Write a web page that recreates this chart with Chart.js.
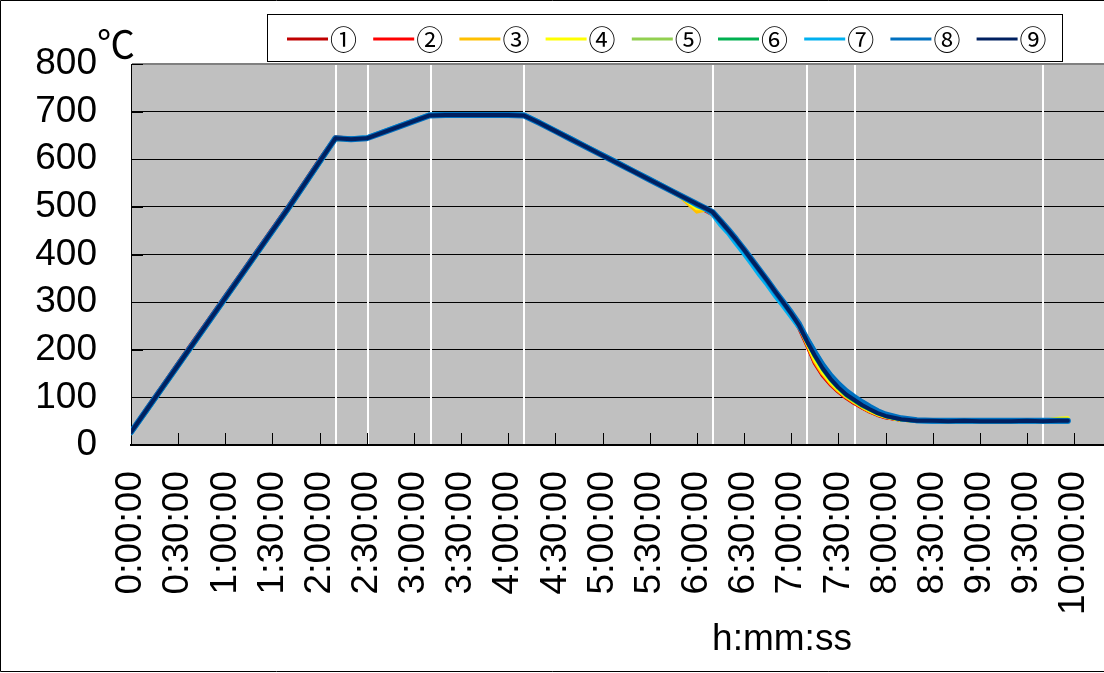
<!DOCTYPE html>
<html><head><meta charset="utf-8">
<script src="https://cdn.jsdelivr.net/npm/chart.js@4.4.1/dist/chart.umd.min.js"></script>
<style>html,body{margin:0;padding:0;background:#fff;}#wrap{width:1104px;height:673px;position:relative;}canvas{display:block;}</style>
</head><body><div id="wrap"><canvas id="c" width="1104" height="673"></canvas></div>
<script>
// elapsed time in minutes
const timeMin = [
  0,10,20,30,40,50,60,70,80,90,100,110,120,130,
  140,150,160,170,180,190,200,210,220,230,240,250,
  260,270,280,290,300,310,320,330,340,350,360,
  365,370,375,380,385,390,395,400,405,410,415,420,425,430,435,440,445,450,455,460,465,470,475,480,
  490,500,510,520,530,540,550,560,570,580,590,596
];
const s1 = [
  28,77,124,172,219,266,313,360,407,454,501,550,599,646,
  643,644,656,668,680,692,693,693,693,693,693,692,
  676,659,642,625,608,591,574,557,540,523,505,
  494,486,466,447,428,406,386,363,341,319,297,272,246,210,172,146,127,112,99,88,79,70,63,58,
  53,51,52,51,52,51,52,51,52,51,50,50
];
const s2 = [
  27,76,123,171,218,265,312,359,406,453,500,549,598,645,
  643,644,656,668,680,692,693,693,693,693,693,692,
  676,659,642,625,608,591,574,557,540,522,504,
  493,484,468,449,429,408,387,365,343,320,297,276,250,212,174,148,128,113,100,89,79,71,64,58,
  53,52,52,51,52,52,51,52,52,51,51,51
];
const s3 = [
  26,73,120,167,214,261,308,355,402,449,496,545,594,643,
  642,644,656,668,680,692,693,693,693,693,693,692,
  676,659,642,625,608,591,574,557,540,520,490,
  494,488,468,449,430,409,386,365,343,320,298,275,250,213,176,150,130,114,101,90,80,71,64,59,
  53,51,51,50,50,50,50,50,51,51,53,54
];
const s4 = [
  26,73,120,167,214,261,308,355,402,449,496,545,594,643,
  642,644,656,668,680,692,693,693,693,693,693,692,
  676,659,642,625,608,591,574,557,540,522,497,
  497,489,470,451,431,410,388,366,344,321,299,276,252,216,180,154,133,117,103,92,82,73,65,60,
  53,51,51,50,50,50,50,50,51,51,55,56
];
const s5 = [
  25,71,118,165,212,259,306,353,400,447,494,543,592,642,
  642,644,656,668,680,692,693,693,693,693,693,692,
  677,660,643,626,609,592,575,558,541,524,507,
  498,489,470,451,431,410,388,366,344,321,299,276,251,218,186,159,137,119,104,93,82,74,66,60,
  53,51,51,50,50,50,50,50,50,50,51,51
];
const s6 = [
  26,72,119,166,213,260,307,354,401,448,495,544,593,643,
  642,644,656,668,680,692,693,693,693,693,693,692,
  677,660,643,626,609,592,575,558,541,524,507,
  498,489,470,451,431,410,388,366,344,321,299,276,251,218,187,160,138,120,105,94,83,75,67,61,
  54,51,51,50,51,50,50,50,51,50,51,51
];
const s7 = [
  26,73,120,167,214,261,308,355,402,449,496,545,594,644,
  643,645,657,669,681,693,694,694,694,694,694,693,
  677,660,643,626,609,592,575,558,541,522,503,
  496,485,463,445,423,402,380,357,336,313,292,270,248,224,196,168,146,127,111,99,88,78,70,63,
  55,51,50,50,50,50,50,50,50,50,50,50
];
const s8 = [
  27,74,121,168,215,262,309,356,403,450,497,546,595,644,
  642,644,656,668,680,692,693,693,693,693,693,692,
  676,659,642,625,608,591,574,557,540,523,506,
  498,489,471,452,432,411,389,367,345,322,300,278,254,222,194,168,146,128,113,101,90,80,71,64,
  56,52,51,51,51,51,51,51,51,51,51,51
];
const s9 = [
  27,74,121,168,215,262,309,356,403,450,497,546,595,644,
  642,644,656,668,680,692,693,693,693,693,693,692,
  676,659,642,625,608,591,574,557,540,523,506,
  498,489,470,451,431,410,388,366,344,321,299,276,251,218,188,161,139,121,106,95,84,75,67,61,
  54,51,51,50,51,50,50,50,51,50,51,51
];
const seriesValues = [s1,s2,s3,s4,s5,s6,s7,s8,s9];
const seriesLabels = ['①','②','③','④','⑤','⑥','⑦','⑧','⑨'];
const seriesColors = ['#C00000','#FF0000','#FFC000','#FFFF00','#92D050','#00B050','#00B0F0','#0070C0','#002060'];
const yTicks = [0,100,200,300,400,500,600,700,800];
const xTickLabels = ['0:00:00','0:30:00','1:00:00','1:30:00','2:00:00','2:30:00','3:00:00','3:30:00','4:00:00','4:30:00','5:00:00','5:30:00','6:00:00','6:30:00','7:00:00','7:30:00','8:00:00','8:30:00','9:00:00','9:30:00','10:00:00'];
const markerTimes = [130.5,150.5,191,250.3,370,430.3,460.5,580.5];
const yUnit = '℃';
const xTitle = 'h:mm:ss';

const FONT = '"Liberation Sans", Arial, "Noto Sans CJK JP", sans-serif';
const lineWidths = [4,4,4,4,4,4,5,6,4];

const datasets = seriesValues.map((vals, i) => ({
  label: seriesLabels[i],
  data: timeMin.map((t, k) => ({x: t, y: vals[k]})),
  borderColor: seriesColors[i],
  backgroundColor: seriesColors[i],
  borderWidth: lineWidths[i],
  pointRadius: 0,
  tension: 0,
  borderJoinStyle: 'round',
  borderCapStyle: 'round',
  order: 8 - i,
  fill: false
}));

const decoPlugin = {
  id: 'deco',
  beforeDraw(chart) {
    const {ctx, chartArea: a} = chart;
    ctx.save();
    ctx.fillStyle = '#FFFFFF';
    ctx.fillRect(0, 0, chart.width, chart.height);
    ctx.fillStyle = '#C0C0C0';
    ctx.fillRect(a.left, a.top, a.right - a.left, a.bottom - a.top);
    ctx.restore();
  },
  beforeDatasetsDraw(chart) {
    const {ctx, chartArea: a, scales} = chart;
    const xs = scales.x, ys = scales.y;
    ctx.save();
    ctx.strokeStyle = '#FFFFFF';
    ctx.lineWidth = 2;
    markerTimes.forEach(t => {
      const px = Math.round(xs.getPixelForValue(t));
      ctx.beginPath();
      ctx.moveTo(px, a.top + 1);
      ctx.lineTo(px, a.bottom - 1);
      ctx.stroke();
    });
    ctx.strokeStyle = '#000000';
    ctx.lineWidth = 1;
    xs.ticks.forEach(tk => {
      const px = Math.round(xs.getPixelForValue(tk.value)) + 0.5;
      ctx.beginPath();
      ctx.moveTo(px, a.bottom);
      ctx.lineTo(px, a.bottom - 12);
      ctx.stroke();
    });
    ys.ticks.forEach(tk => {
      const py = Math.round(ys.getPixelForValue(tk.value)) + 0.5;
      ctx.beginPath();
      ctx.moveTo(a.left, py);
      ctx.lineTo(a.left + 12, py);
      ctx.stroke();
    });
    ctx.restore();
  },
  afterDraw(chart) {
    const {ctx} = chart;
    ctx.save();
    const lx = 267, ly = 14, lw = 795, lh = 47;
    ctx.fillStyle = '#FFFFFF';
    ctx.fillRect(lx, ly, lw, lh);
    ctx.strokeStyle = '#000000';
    ctx.lineWidth = 1;
    ctx.strokeRect(lx + 0.5, ly + 0.5, lw, lh);
    chart.data.datasets.forEach((ds, i) => {
      const x0 = 287 + i * 86.2;
      const yc = 39;
      ctx.strokeStyle = ds.borderColor;
      ctx.lineWidth = 3;
      ctx.lineCap = 'butt';
      ctx.beginPath();
      ctx.moveTo(x0, yc);
      ctx.lineTo(x0 + 41, yc);
      ctx.stroke();
      ctx.fillStyle = '#000000';
      ctx.font = '27px "Noto Sans CJK JP", sans-serif';
      ctx.textAlign = 'left';
      ctx.textBaseline = 'middle';
      ctx.fillText(ds.label, x0 + 43, yc + 1);
    });
    ctx.fillStyle = '#000000';
    ctx.font = '38px "Noto Sans CJK JP", sans-serif';
    ctx.textAlign = 'left';
    ctx.textBaseline = 'alphabetic';
    ctx.fillText(yUnit, 97, 58);
    ctx.font = '37px ' + FONT;
    ctx.textAlign = 'center';
    ctx.fillText(xTitle, 782, 650);
    ctx.strokeStyle = '#000000';
    ctx.lineWidth = 1;
    ctx.beginPath();
    ctx.moveTo(chart.width, 0.5);
    ctx.lineTo(0.5, 0.5);
    ctx.lineTo(0.5, 671.5);
    ctx.lineTo(chart.width, 671.5);
    ctx.stroke();
    ctx.restore();
  }
};

new Chart(document.getElementById('c'), {
  type: 'line',
  data: {datasets},
  options: {
    responsive: false,
    animation: false,
    devicePixelRatio: 1,
    layout: {padding: {top: 64, left: 0, right: 0, bottom: 0}},
    plugins: {legend: {display: false}, tooltip: {enabled: false}, title: {display: false}},
    scales: {
      x: {
        type: 'linear',
        min: 0,
        max: 619,
        afterFit: s => { s.height = 228; s.paddingLeft = 0; s.paddingRight = 0; },
        grid: {drawOnChartArea: false, drawTicks: false},
        border: {display: true, color: '#000000', width: 2},
        ticks: {
          stepSize: 30,
          includeBounds: false,
          autoSkip: false,
          minRotation: 90,
          maxRotation: 90,
          padding: 26,
          color: '#000000',
          font: {family: FONT, size: 37},
          callback: v => xTickLabels[Math.round(v / 30)]
        }
      },
      y: {
        min: 0,
        max: 800,
        afterFit: s => { s.width = 131; s.paddingTop = 0; s.paddingBottom = 0; },
        grid: {
          drawTicks: false,
          color: c => (c.tick && c.tick.value === 800) ? '#808080' : '#000000',
          lineWidth: c => (c.tick && c.tick.value === 800) ? 2 : 1
        },
        border: {display: true, color: '#000000', width: 1},
        afterBuildTicks: s => { s.ticks = yTicks.map(v => ({value: v})); },
        ticks: {
          padding: 34,
          color: '#000000',
          font: {family: FONT, size: 37}
        }
      }
    }
  },
  plugins: [decoPlugin]
});
</script>
</body></html>
